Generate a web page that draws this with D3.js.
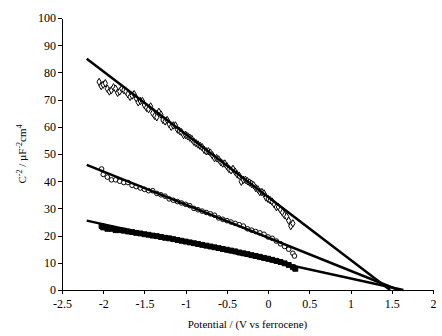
<!DOCTYPE html>
<html><head><meta charset="utf-8">
<script src="https://cdn.jsdelivr.net/npm/d3@7"></script>
<style>body{margin:0;background:#fff}svg{display:block}</style>
</head><body>
<script>
const xTicks = [-2.5,-2,-1.5,-1,-0.5,0,0.5,1,1.5,2];
const yTicks = [0,10,20,30,40,50,60,70,80,90,100];

const topX = [-2.05,-2.025,-2.0,-1.975,-1.95,-1.925,-1.9,-1.875,-1.85,-1.825,-1.8,-1.775,-1.75,-1.725,-1.7,-1.675,-1.65,-1.625,-1.6,-1.575,-1.55,-1.525,-1.5,-1.475,-1.45,-1.425,-1.4,-1.375,-1.35,-1.325,-1.3,-1.275,-1.25,-1.225,-1.2,-1.175,-1.15,-1.125,-1.1,-1.075,-1.05,-1.025,-1.0,-0.975,-0.95,-0.925,-0.9,-0.875,-0.85,-0.825,-0.8,-0.775,-0.75,-0.725,-0.7,-0.675,-0.65,-0.625,-0.6,-0.575,-0.55,-0.525,-0.5,-0.475,-0.45,-0.425,-0.4,-0.375,-0.35,-0.325,-0.3,-0.275,-0.25,-0.225,-0.2,-0.175,-0.15,-0.125,-0.1,-0.075,-0.05,-0.025,0.0,0.025,0.05,0.075,0.1,0.125,0.15,0.175,0.2,0.225,0.25,0.275,0.3];
const topY = [76.5,75,75.5,76,74,73,73.5,74.5,74,72.5,73,74,73.5,73,72,71,71.5,72,70.5,69,69.5,69.5,68,67,66.5,67.5,65,64,63.5,65.5,64.5,62.5,62,62.5,61,60,60.5,60.5,59,58.5,58,57,57,56.5,56,55.5,54.5,54,53.5,53,52.5,51.5,51,51,50.5,49.5,48.5,48.5,48,47,46.5,46.5,45.5,44.5,44,44.5,43.5,42.5,42,39.8,40.5,40.5,40,39.5,39,38.5,37.5,37,36,36,35.5,34,33.5,33,32.5,31.5,30.5,30.5,29.5,28.5,27.5,27,25.5,23.5,24.5];

const midX = [-2.02,-2.0,-1.95,-1.9,-1.85,-1.8,-1.75,-1.7,-1.65,-1.6,-1.55,-1.5,-1.45,-1.4,-1.35,-1.3,-1.25,-1.2,-1.15,-1.1,-1.05,-1.0,-0.95,-0.9,-0.85,-0.8,-0.75,-0.7,-0.65,-0.6,-0.55,-0.5,-0.45,-0.4,-0.35,-0.3,-0.25,-0.2,-0.15,-0.1,-0.05,0.0,0.05,0.1,0.15,0.2,0.25,0.3,0.32];
const midY = [44.5,42.5,41.5,40.5,40.5,40,39.5,39.5,38.5,38,37.5,37,36.5,36.5,35.5,35,34.5,33.5,33,32.5,32,31.5,31,30,29.5,29,28.5,28,27.5,26.5,26,25.5,25,24.5,24,23.5,22.5,22,21.5,21,20.5,19.5,19,18,17,16,15,13.5,12.5];

const lowX = [-2.02,-2.0,-1.95,-1.9,-1.85,-1.8,-1.75,-1.7,-1.65,-1.6,-1.55,-1.5,-1.45,-1.4,-1.35,-1.3,-1.25,-1.2,-1.15,-1.1,-1.05,-1.0,-0.95,-0.9,-0.85,-0.8,-0.75,-0.7,-0.65,-0.6,-0.55,-0.5,-0.45,-0.4,-0.35,-0.3,-0.25,-0.2,-0.15,-0.1,-0.05,0.0,0.05,0.1,0.15,0.2,0.25,0.3,0.33];
const lowY = [23.5,23,22.5,22.5,22,22,21.8,21.5,21.3,21,20.8,20.5,20.3,20,19.8,19.5,19.2,19,18.7,18.4,18.1,17.8,17.5,17.2,16.9,16.6,16.3,16,15.7,15.4,15.1,14.8,14.5,14.2,13.8,13.5,13.2,12.8,12.5,12.2,11.8,11.5,11.1,10.7,10.3,9.8,9.2,8.4,7.8];

// fitted lines: [x0, y0, x1, y1]
const fitTop = [[-2.2,85],[1.48,0]];
const fitMid = [[-2.2,46],[1.58,0]];
const fitLow = [[-2.2,25.5],[1.64,0]];

const W=442,H=336;
const svg=d3.select("body").append("svg").attr("width",W).attr("height",H);
const x=d3.scaleLinear().domain([-2.5,2]).range([62,433]);
const y=d3.scaleLinear().domain([0,100]).range([290,18]);
const font="'Liberation Serif','Times New Roman',serif";

const xa=svg.append("g").attr("transform","translate(0,"+y(0)+")")
  .call(d3.axisBottom(x).tickValues(xTicks).tickSize(4).tickSizeOuter(0).tickFormat(d=>String(d)));
const ya=svg.append("g").attr("transform","translate("+x(-2.5)+",0)")
  .call(d3.axisLeft(y).tickValues(yTicks).tickSize(4).tickSizeOuter(0).tickFormat(d=>String(d)));
[xa,ya].forEach(a=>{
  a.selectAll("path,line").attr("stroke","#000").attr("stroke-width",1).attr("shape-rendering","crispEdges");
  a.selectAll("text").attr("font-family",font).attr("font-size",12).attr("fill","#000");
});
xa.selectAll("text").attr("dy","0.9em").attr("y",7);
ya.selectAll("text").attr("x",-6);

const g=svg.append("g");
const sym=d3.symbol();
// bottom: filled
g.append("g").selectAll("path").data(lowX.map((v,i)=>[v,lowY[i]])).join("path")
  .attr("transform",d=>`translate(${x(d[0])},${y(d[1])})`)
  .attr("d",sym.type(d3.symbolSquare).size(24)()).attr("fill","#000").attr("stroke","#000").attr("stroke-width",1);
// middle: open circles
g.append("g").selectAll("circle").data(midX.map((v,i)=>[v,midY[i]])).join("circle")
  .attr("cx",d=>x(d[0])).attr("cy",d=>y(d[1])).attr("r",2.3)
  .attr("fill","#fff").attr("stroke","#000").attr("stroke-width",1);
// top: open diamonds
g.append("g").selectAll("path").data(topX.map((v,i)=>[v,topY[i]])).join("path")
  .attr("transform",d=>`translate(${x(d[0])},${y(d[1])})`)
  .attr("d",sym.type(d3.symbolDiamond).size(16)()).attr("fill","#fff").attr("stroke","#000").attr("stroke-width",1);

const line=d3.line().x(d=>x(d[0])).y(d=>y(d[1]));
[fitTop,fitMid,fitLow].forEach(f=>{
  svg.append("path").attr("d",line(f)).attr("fill","none").attr("stroke","#000").attr("stroke-width",2.5);
});

svg.append("text").attr("x",(x(-2.5)+x(2))/2).attr("y",328).attr("text-anchor","middle")
  .attr("font-family",font).attr("font-size",11).text("Potential / (V vs ferrocene)");

const yl=svg.append("text").attr("transform","translate(26,154) rotate(-90)").attr("text-anchor","middle")
  .attr("font-family",font).attr("font-size",11);
yl.append("tspan").text("C");
yl.append("tspan").attr("dy",-4).attr("font-size",8).text("-2");
yl.append("tspan").attr("dy",4).text(" / µF");
yl.append("tspan").attr("dy",-4).attr("font-size",8).text("-2");
yl.append("tspan").attr("dy",4).text("cm");
yl.append("tspan").attr("dy",-4).attr("font-size",8).text("4");
</script>
</body></html>
